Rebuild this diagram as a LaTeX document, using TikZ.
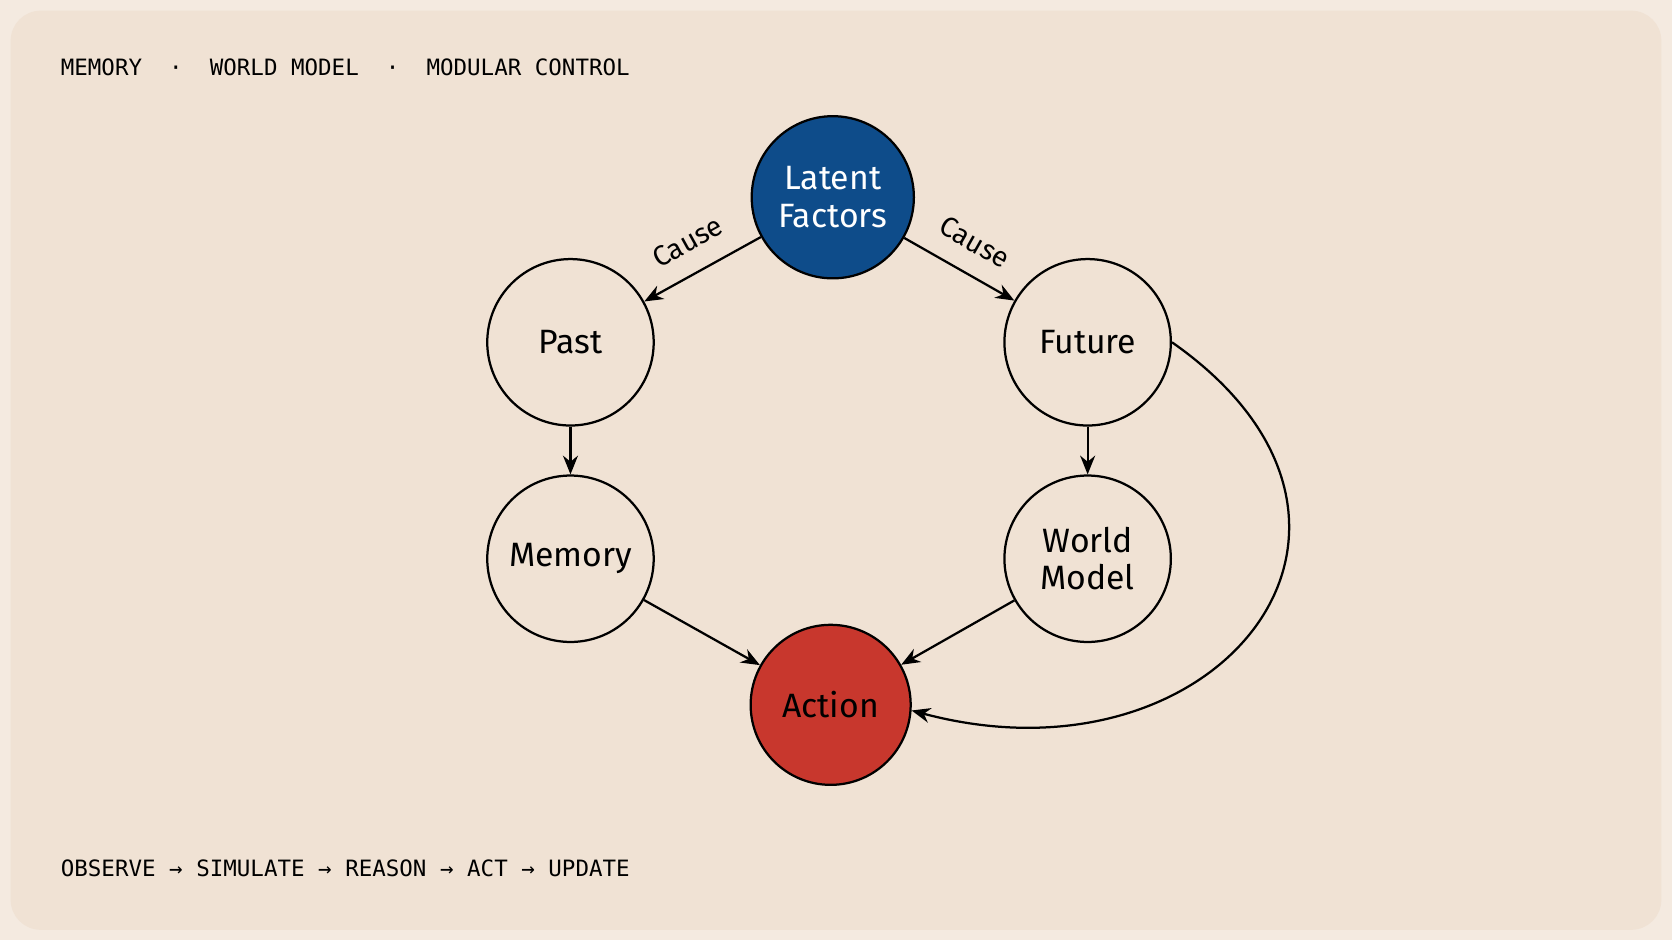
\documentclass[tikz,border=0pt]{standalone}
\usepackage{fontspec}
\setmainfont{Fira Sans}
\setmonofont{DejaVu Sans Mono}
\usetikzlibrary{calc,arrows.meta}
\definecolor{paper}{HTML}{F4EAE0}
\definecolor{panel}{HTML}{F0E2D4}
\definecolor{latentblue}{HTML}{0E4C8A}
\definecolor{actionred}{HTML}{C8372D}
\begin{document}
\begin{tikzpicture}[x=0.01cm,y=-0.01cm,semithick,
  state/.style={circle,draw,semithick,minimum size=1.56cm,inner sep=0pt,align=center,font=\fontsize{9}{10}\selectfont,fill=panel},
  link/.style={-{Stealth[length=5pt,width=4pt]}},
  cause/.style={font=\fontsize{7.5}{8}\selectfont,sloped,above=2pt},
  caption/.style={anchor=west,inner sep=0pt,font=\ttfamily\fontsize{6}{7}\selectfont}]

  \fill[paper] (0,0) rectangle (1568,882);
  \fill[panel,rounded corners=8] (10,10) rectangle (1558,872);

  \node[caption] (top) at (56,63) {MEMORY~~·~~WORLD MODEL~~·~~MODULAR CONTROL};
  \node[caption] (bottom) at (56,814) {OBSERVE~→~SIMULATE~→~REASON~→~ACT~→~UPDATE};

  \node[state,fill=latentblue,text=white,minimum size=1.52cm] (latent) at (781,185) {Latent\\Factors};
  \node[state] (past) at (535,321) {Past};
  \node[state] (future) at (1020,321) {Future};
  \node[state] (memory) at (535,524) {Memory};
  \node[state] (world) at (1020,524) {World\\Model};
  \node[state,fill=actionred,minimum size=1.5cm] (action) at (779,661) {Action};

  \draw[link] (latent) -- node[cause,pos=0.5] {Cause} (past);
  \draw[link] (latent) -- node[cause,pos=0.5] {Cause} (future);
  \draw[link] (past) -- (memory);
  \draw[link] (future) -- (world);
  \draw[link] (memory) -- (action);
  \draw[link] (world) -- (action);
  \draw[link] (future.east) to[out=-35,in=-15,looseness=1.8] (action.-4);

\end{tikzpicture}
\end{document}
